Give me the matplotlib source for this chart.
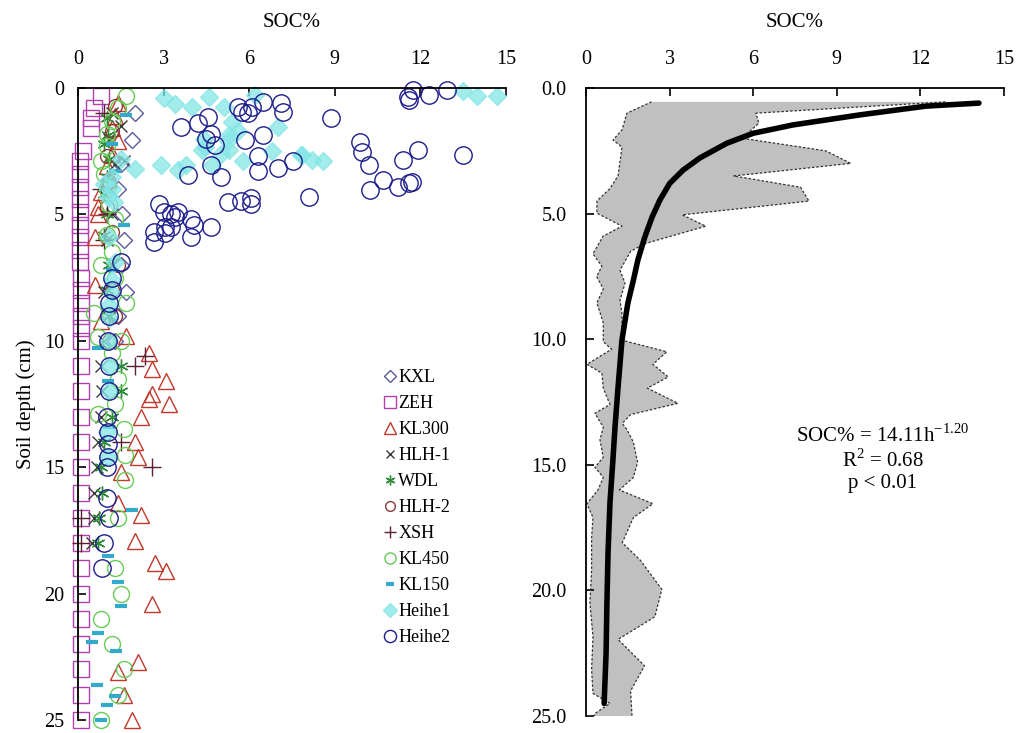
import numpy as np
import matplotlib
matplotlib.use('Agg')
import matplotlib.pyplot as plt

plt.rcParams['font.family'] = ['Liberation Serif', 'DejaVu Serif']

# ---- datos del panel izquierdo (SOC%, profundidad cm) ----
kxl_soc = [2.0, 1.9, 1.5, 1.4, 1.55, 1.6, 1.5, 1.7, 1.4, 1.3]
kxl_dep = [1.0, 2.05, 3.0, 4.0, 5.0, 6.0, 7.0, 8.05, 9.0, 10.0]

zeh_soc = [0.8, 0.55, 0.45, 0.45, 0.18, 0.08, 0.08, 0.08, 0.08, 0.08, 0.08, 0.08, 0.08, 0.08,
           0.1, 0.1, 0.1, 0.1, 0.1, 0.1, 0.1, 0.1, 0.1, 0.1, 0.1, 0.1, 0.1, 0.1, 0.1, 0.1,
           0.1, 0.1, 0.1, 0.1, 0.1]
zeh_dep = [0.3, 0.8, 1.2, 1.6, 2.5, 2.9, 3.4, 3.9, 4.4, 4.9, 5.4, 5.9, 6.4, 6.9,
           7.5, 8.0, 8.5, 9.0, 9.5, 10.0, 11, 12, 13, 14, 15, 16, 17, 18, 19, 20,
           21, 22, 23, 24, 25]

kl300_soc = [1.4, 1.3, 1.2, 1.4, 1.2, 1.0, 1.1, 0.8, 0.7, 0.7, 0.6, 0.6, 0.8, 1.7, 2.5, 2.6,
             3.1, 2.6, 2.5, 3.2, 2.2, 2.0, 2.1, 1.5, 1.4, 2.2, 2.0, 2.7, 3.1, 2.6, 2.1, 1.4,
             1.6, 1.9]
kl300_dep = [0.6, 1.1, 1.6, 2.1, 2.6, 3.1, 3.6, 4.1, 4.7, 5.0, 5.9, 7.8, 9.2, 9.8, 10.5, 11.1,
             11.6, 12.1, 12.3, 12.5, 13.0, 14.0, 14.6, 15.2, 16.4, 16.9, 17.9, 18.8, 19.1, 20.4,
             22.7, 23.1, 24.0, 25.0]

hlh1_soc = [1.2, 1.5, 1.1, 1.6, 1.3, 1.0, 1.2, 1.0, 1.2, 0.9, 1.05, 0.9, 0.8, 0.85, 0.8, 0.7,
            0.65, 0.55, 0.55, 0.5]
hlh1_dep = [1.0, 1.5, 2.0, 2.9, 3.0, 4.0, 5.0, 6.0, 7.0, 8.05, 9.0, 10.0, 11.0, 12.0, 13.0,
            14.0, 15.0, 16.0, 17.0, 18.0]

wdl_soc = [1.0, 1.05, 0.9, 1.1, 1.0, 0.9, 1.0, 0.9, 1.1, 1.0, 1.1, 1.5, 1.5, 1.2, 0.9, 0.8,
           0.85, 0.75, 0.7]
wdl_dep = [1.2, 1.85, 2.2, 2.8, 3.5, 4.2, 5.0, 5.8, 7.0, 8.0, 9.0, 11.0, 12.0, 13.0, 14.0,
           15.0, 16.0, 17.0, 18.0]

hlh2_soc = [1.3, 1.2, 1.0, 1.1, 1.0, 1.2, 1.4, 1.2, 1.3, 1.1]
hlh2_dep = [0.7, 1.7, 2.7, 3.7, 4.7, 5.7, 7.0, 8.0, 9.0, 10.0]

xsh_soc = [0.9, 0.8, 1.0, 0.9, 2.35, 2.0, 1.5, 2.6, 0.1, 0.1]
xsh_dep = [1.0, 4.0, 5.0, 6.0, 10.6, 11.0, 14.0, 15.0, 17.0, 18.0]

kl450_soc = [1.7, 1.4, 1.2, 1.0, 1.0, 0.8, 0.9, 1.0, 1.1, 1.3, 1.0, 1.2, 0.8, 1.3, 1.7, 0.55,
             0.7, 1.5, 1.2, 1.4, 1.3, 0.7, 1.6, 1.65, 1.65, 1.4, 1.3, 1.5, 0.8, 1.2, 1.6, 1.4,
             0.8]
kl450_dep = [0.3, 0.8, 1.3, 1.8, 2.3, 2.9, 3.4, 4.0, 4.6, 5.2, 5.8, 6.5, 7.0, 7.5, 8.5, 8.9,
             9.85, 10.0, 10.5, 11.5, 12.5, 12.9, 13.5, 14.5, 15.5, 17.0, 19.0, 20.0, 21.0, 22.0,
             23.0, 24.0, 25.0]

kl150_soc = [1.7, 1.2, 1.3, 1.6, 1.2, 0.7, 1.05, 1.1, 1.9, 1.05, 1.4, 1.5, 0.7, 0.5, 1.35,
             0.65, 1.3, 1.0, 0.8]
kl150_dep = [1.05, 2.2, 3.3, 5.4, 7.2, 10.3, 11.6, 13.4, 16.7, 18.5, 19.55, 20.5, 21.55, 21.9,
             22.25, 23.6, 24.05, 24.4, 25.0]

heihe1_soc = [3.0, 3.4, 4.0, 4.6, 6.2, 5.4, 5.3, 5.25, 4.45, 5.3, 5.8, 7.0, 6.8, 7.85, 8.2,
              8.6, 2.9, 3.5, 3.8, 4.7, 2.0, 13.5, 14.0, 14.7, 5.1, 5.6, 5.0, 4.35, 4.4, 7.8,
              1.2, 0.9, 1.2, 1.05, 1.25, 1.5, 1.1, 1.3, 1.2, 1.2, 1.1, 1.1, 1.1, 1.1, 1.1, 1.0,
              1.05]
heihe1_dep = [0.4, 0.65, 0.75, 0.35, 0.28, 1.35, 1.85, 2.1, 2.35, 2.45, 2.9, 1.55, 2.5, 2.65,
              2.85, 2.9, 3.05, 3.25, 3.05, 3.05, 3.2, 0.1, 0.3, 0.3, 0.74, 1.7, 2.6, 2.45, 2.0,
              2.64, 3.5, 3.8, 4.0, 4.3, 4.5, 2.8, 5.9, 6.9, 7.6, 8.1, 8.6, 9.1, 10.0, 11.0, 12.0,
              13.6, 14.6]

heihe2_soc = [11.75, 11.55, 11.6, 12.3, 12.95, 6.5, 7.1, 7.2, 6.1, 5.6, 5.75, 5.95, 8.85, 4.55,
              3.6, 4.2, 4.65, 4.5, 4.8, 5.85, 6.5, 9.9, 9.95, 10.2, 11.4, 11.9, 13.5, 10.7, 10.25,
              11.2, 11.6, 11.7, 6.3, 6.3, 7.0, 7.55, 4.65, 5.0, 3.85, 5.25, 5.7, 6.05, 6.05, 8.1,
              2.85, 3.0, 3.25, 3.5, 3.95, 4.05, 4.65, 3.95, 2.65, 3.05, 3.25, 2.65, 3.05, 3.4,
              1.5, 1.2, 1.2, 1.1, 1.1, 1.05, 1.1, 1.1, 1.0, 1.05, 1.05, 1.05, 1.0, 1.0, 1.1, 0.9,
              0.85]
heihe2_dep = [0.08, 0.35, 0.47, 0.28, 0.08, 0.55, 0.6, 0.95, 0.74, 0.74, 0.95, 1.0, 1.2, 1.15,
              1.55, 1.4, 1.8, 2.0, 2.25, 2.05, 1.85, 2.15, 2.55, 3.05, 2.85, 2.45, 2.65, 3.65, 4.05,
              3.9, 3.75, 3.7, 2.7, 3.3, 3.15, 2.9, 3.05, 3.5, 3.45, 4.5, 4.45, 4.35, 4.6, 4.3,
              4.6, 4.9, 5.0, 4.9, 5.2, 5.4, 5.5, 5.9, 5.7, 5.75, 5.5, 6.1, 5.5, 5.1,
              6.9, 7.5, 8.0, 8.5, 9.0, 10.0, 11.0, 12.0, 13.0, 13.6, 14.1, 14.6, 15.0, 16.2, 17.0,
              18.0, 19.0]

# ---- datos del panel derecho ----
band_max_dep = [0.55, 1.0, 1.4, 2.0, 2.5, 3.0, 3.5, 3.95, 4.5, 5.05, 5.5, 6.2, 6.5, 7.25, 7.77,
                8.45, 8.97, 9.57, 10.05, 10.5, 11.0, 11.5, 11.95, 12.55, 13.0, 13.35, 13.6, 14.1,
                14.9, 15.5, 16.0, 16.55, 17.1, 18.1, 18.8, 19.96, 21.05, 21.95, 23.0, 24.0, 25.0]
band_max_soc = [12.9, 6.1, 6.2, 5.6, 8.6, 9.5, 5.3, 7.7, 8.0, 3.45, 4.3, 2.1, 1.6, 1.22, 1.4,
                1.22, 1.29, 1.29, 1.33, 2.9, 2.4, 2.95, 2.2, 3.3, 1.6, 1.3, 1.47, 1.7,
                1.85, 1.7, 1.2, 2.4, 1.7, 1.3, 1.95, 2.72, 2.47, 1.15, 2.1, 1.6, 1.65]
band_min_dep = [0.55, 1.0, 1.67, 2.07, 2.35, 3.5, 4.0, 4.5, 4.98, 5.5, 5.9, 6.6, 7.1, 7.5, 8.0,
                8.55, 9.35, 10.1, 10.4, 11.0, 11.35, 11.95, 12.6, 12.95, 13.5, 14.0, 14.7, 15.1,
                15.5, 16.0, 16.55, 17.1, 17.9, 19.2, 20.5, 21.85, 23.15, 24.1, 24.5, 24.9, 25.0]
band_min_soc = [2.35, 1.47, 1.29, 0.97, 1.29, 1.15, 0.86, 0.39, 0.39, 1.29, 0.61, 0.25, 0.57,
                0.38, 0.62, 0.39, 0.62, 0.62, 0.92, 0.03, 0.57, 0.62, 0.86, 0.32, 0.62, 0.5, 0.62,
                0.32, 0.62, 0.43, 0.03, 0.25, 0.2, 0.2, 0.14, 0.25, 0.2, 0.25, 0.86, 0.32, 0.3]

fit_dep = [0.6, 0.72, 1.07, 1.47, 1.8, 2.2, 2.78, 3.27, 3.8, 4.46, 5.14, 5.93, 6.85, 7.65,
           8.57, 10.04, 11.9, 13.5, 14.9, 16.5, 18.5, 20.5, 22.5, 24.5]
fit_soc = [14.1, 12.2, 9.82, 7.42, 6.0, 5.05, 4.09, 3.48, 3.0, 2.65, 2.37, 2.11, 1.86, 1.7,
           1.5, 1.29, 1.15, 1.04, 0.96, 0.86, 0.79, 0.75, 0.72, 0.65]

series = [
    ('KXL', kxl_soc, kxl_dep, dict(marker='D', mfc='none', mec='#5a5aa0', ms=8.5)),
    ('ZEH', zeh_soc, zeh_dep, dict(marker='s', mfc='none', mec='#b040b0', ms=12)),
    ('KL300', kl300_soc, kl300_dep, dict(marker='^', mfc='none', mec='#c0392b', ms=12)),
    ('HLH-1', hlh1_soc, hlh1_dep, dict(marker='x', mfc='none', mec='#3a3a3a', ms=9)),
    ('WDL', wdl_soc, wdl_dep, dict(marker=(6, 2, 0), mfc='none', mec='#2e8b3a', ms=10)),
    ('HLH-2', hlh2_soc, hlh2_dep, dict(marker='o', mfc='none', mec='#8b3a3a', ms=10)),
    ('XSH', xsh_soc, xsh_dep, dict(marker='+', mfc='none', mec='#5a2030', ms=13)),
    ('KL450', kl450_soc, kl450_dep, dict(marker='o', mfc='none', mec='#66cc55', ms=11.5)),
    ('KL150', kl150_soc, kl150_dep, dict(marker='_', mfc='none', mec='#33aacc', ms=9, mew=3)),
    ('Heihe1', heihe1_soc, heihe1_dep, dict(marker='D', mfc='#84e6e6', mec='#84e6e6', ms=9.5, alpha=0.75)),
    ('Heihe2', heihe2_soc, heihe2_dep, dict(marker='o', mfc='none', mec='#1c1c8c', ms=12.5)),
]

fig = plt.figure(figsize=(10.22, 7.33), dpi=100)
ax1 = fig.add_axes([0.0763, 0.0177, 0.4188, 0.8622])
ax2 = fig.add_axes([0.5734, 0.0232, 0.4090, 0.8567])

for name, x, y, st in series:
    st = dict(st)
    mew = st.pop('mew', 1.0)
    ax1.plot(x, y, linestyle='none', mew=mew, clip_on=False, label=name, **st)

for ax in (ax1, ax2):
    ax.set_xlim(0, 15)
    ax.set_ylim(25, 0)
    ax.set_xticks([0, 3, 6, 9, 12, 15])
    ax.xaxis.set_ticks_position('top')
    ax.xaxis.set_label_position('top')
    ax.spines['right'].set_visible(False)
    ax.spines['bottom'].set_visible(False)
    ax.spines['top'].set_linewidth(1.3)
    ax.spines['left'].set_linewidth(1.3)
    ax.tick_params(direction='in', length=6, width=1.2, labelsize=14.5)
    ax.tick_params(axis='x', pad=14)
    ax.set_xlabel('SOC%', fontsize=15, labelpad=16)

ax1.tick_params(axis='y', pad=10)
ax2.tick_params(axis='y', pad=14)

ax1.set_yticks([0, 5, 10, 15, 20, 25])
ax1.set_ylabel('Soil depth (cm)', fontsize=15, labelpad=6)

leg = ax1.legend(loc='lower left', bbox_to_anchor=(0.70, 0.105), frameon=False, fontsize=13,
                 handlelength=0.6, handletextpad=0.15, labelspacing=0.5, markerscale=0.7,
                 borderaxespad=0)

# panel derecho: banda min-max y curva ajustada
poly_x = band_max_soc + band_min_soc[::-1]
poly_y = band_max_dep + band_min_dep[::-1]
ax2.fill(poly_x, poly_y, color='#c0c0c0', lw=0, zorder=1)
ax2.plot(band_max_soc, band_max_dep, color='#333333', lw=0.9, ls=(0, (2, 1.5)), zorder=2)
ax2.plot(band_min_soc, band_min_dep, color='#333333', lw=0.9, ls=(0, (2, 1.5)), zorder=2)
ax2.plot(fit_soc, fit_dep, color='black', lw=4, solid_capstyle='round', zorder=3)
ax2.set_yticks([0, 5, 10, 15, 20, 25])
ax2.set_yticklabels(['0.0', '5.0', '10.0', '15.0', '20.0', '25.0'])

ax2.text(0.71, 0.41, 'SOC% = 14.11h$^{\\mathregular{-1.20}}$\nR$^{\\mathregular{2}}$ = 0.68\np < 0.01',
         transform=ax2.transAxes, ha='center', va='center', fontsize=15, linespacing=1.15)

fig.savefig('out.png', dpi=100)
